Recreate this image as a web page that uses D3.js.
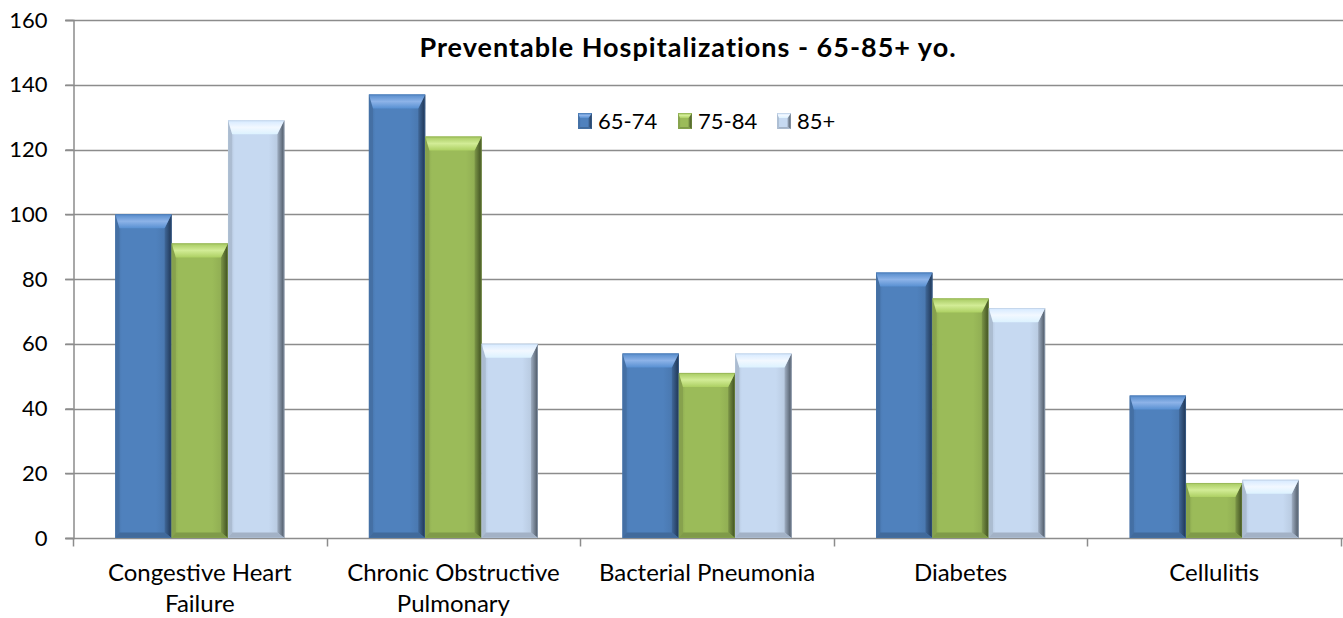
<!DOCTYPE html>
<html>
<head>
<meta charset="utf-8">
<script src="https://cdn.jsdelivr.net/npm/d3@7"></script>
<style>
  html, body { margin: 0; padding: 0; background: #fff; }
  svg { display: block; }
  text { font-family: Lato, "Open Sans", sans-serif; fill: #000; }
</style>
</head>
<body>
<svg id="chart" width="1343" height="618"></svg>
<script>
// Preventable hospitalizations by condition and age group
const categories = ["Congestive Heart Failure", "Chronic Obstructive Pulmonary", "Bacterial Pneumonia", "Diabetes", "Cellulitis"];
const categoryLines = [["Congestive Heart", "Failure"], ["Chronic Obstructive", "Pulmonary"], ["Bacterial Pneumonia"], ["Diabetes"], ["Cellulitis"]];
const seriesNames = ["65-74", "75-84", "85+"];
const values6574 = [100, 137, 57, 82, 44];
const values7584 = [91, 124, 51, 74, 17];
const values85 = [129, 60, 57, 71, 18];
const yTicks = [0, 20, 40, 60, 80, 100, 120, 140, 160];
const seriesColors = ["#4F81BD", "#9BBB59", "#C6D9F1"];
const seriesDark = ["#1F3553", "#3E4E20", "#4A5562"];
const seriesLight = ["#8DB3E8", "#D2EC96", "#F2F8FF"];

const seriesValues = [values6574, values7584, values85];

const svg = d3.select("#chart");
const margin = { left: 73, right: 2, top: 20, bottom: 80 };
const W = 1343, H = 618;
const plotW = W - margin.left - margin.right;
const plotH = H - margin.top - margin.bottom;

const y = d3.scaleLinear().domain([0, 160]).range([margin.top + plotH, margin.top]);
const x0 = d3.scaleBand().domain(categories).range([margin.left, margin.left + plotW]).paddingInner(0).paddingOuter(0);
// gap width of 150% of one bar: group occupies 3 / (3 + 1.5) of the band
const groupFrac = 3 / 4.5;
const x1 = d3.scaleBand().domain(seriesNames)
  .range([x0.bandwidth() * (1 - groupFrac) / 2, x0.bandwidth() * (1 + groupFrac) / 2])
  .padding(0);

const defs = svg.append("defs");
seriesNames.forEach((s, i) => {
  const g = defs.append("linearGradient").attr("id", "body" + i).attr("x1", 0).attr("x2", 1).attr("y1", 0).attr("y2", 0);
  g.append("stop").attr("offset", 0).attr("stop-color", d3.color(seriesColors[i]).darker(0.35));
  g.append("stop").attr("offset", 0.12).attr("stop-color", seriesColors[i]);
  g.append("stop").attr("offset", 0.72).attr("stop-color", seriesColors[i]);
  g.append("stop").attr("offset", 1).attr("stop-color", d3.color(seriesColors[i]).darker(0.35));
  const t = defs.append("linearGradient").attr("id", "top" + i).attr("x1", 0).attr("x2", 0).attr("y1", 0).attr("y2", 1);
  t.append("stop").attr("offset", 0).attr("stop-color", d3.color(seriesColors[i]).brighter(0.2));
  t.append("stop").attr("offset", 0.5).attr("stop-color", seriesLight[i]);
  t.append("stop").attr("offset", 1).attr("stop-color", d3.color(seriesColors[i]).brighter(0.3));
  const r = defs.append("linearGradient").attr("id", "right" + i).attr("x1", 0).attr("x2", 1).attr("y1", 0).attr("y2", 0);
  r.append("stop").attr("offset", 0).attr("stop-color", d3.color(seriesColors[i]).darker(0.6));
  r.append("stop").attr("offset", 1).attr("stop-color", seriesDark[i]);
});

// gridlines
svg.append("g").selectAll("line").data(yTicks.filter(d => d > 0)).join("line")
  .attr("x1", margin.left - 8).attr("x2", W)
  .attr("y1", d => Math.round(y(d)) + 0.5).attr("y2", d => Math.round(y(d)) + 0.5)
  .attr("stroke", "#8C8C8C").attr("stroke-width", 1.5);

// y axis
const yAxis = svg.append("g").attr("transform", `translate(${margin.left + 0.5},0)`)
  .call(d3.axisLeft(y).tickValues(yTicks).tickSize(8).tickPadding(18));
yAxis.select(".domain").attr("stroke", "#8C8C8C").attr("stroke-width", 1.5);
yAxis.selectAll(".tick line").attr("stroke", "#8C8C8C").attr("stroke-width", 1.5);
yAxis.selectAll(".tick text").style("font-size", "22px").attr("fill", "#000");

// x axis baseline and category ticks
const baseY = Math.round(y(0)) + 0.5;
svg.append("line").attr("x1", margin.left - 8).attr("x2", W).attr("y1", baseY).attr("y2", baseY)
  .attr("stroke", "#8C8C8C").attr("stroke-width", 1.5);
const bounds = categories.map(c => x0(c)).concat([x0(categories[categories.length - 1]) + x0.bandwidth()]);
svg.append("g").selectAll("line").data(bounds).join("line")
  .attr("x1", d => Math.min(Math.round(d) + 0.5, W - 1.5)).attr("x2", d => Math.min(Math.round(d) + 0.5, W - 1.5))
  .attr("y1", baseY).attr("y2", baseY + 8)
  .attr("stroke", "#8C8C8C").attr("stroke-width", 1.5);

// category labels
const labels = svg.append("g");
categories.forEach((c, i) => {
  const t = labels.append("text").attr("x", x0(c) + x0.bandwidth() / 2).attr("y", 581)
    .attr("text-anchor", "middle").style("font-size", "24px");
  categoryLines[i].forEach((ln, j) => {
    t.append("tspan").attr("x", x0(c) + x0.bandwidth() / 2).attr("dy", j === 0 ? 0 : 31).text(ln);
  });
});

// beveled bars
function drawBar(g, bx, by, bw, bh, i, bevel) {
  const b = Math.min(bevel, bh / 2);
  const side = Math.min(7, bw / 4);
  g.append("rect").attr("x", bx).attr("y", by).attr("width", bw).attr("height", bh).attr("fill", `url(#body${i})`);
  // right bevel
  g.append("polygon").attr("points", [[bx + bw - side, by + b], [bx + bw, by], [bx + bw, by + bh], [bx + bw - side, by + bh - b * 0.4]].join(" "))
    .attr("fill", `url(#right${i})`);
  // left bevel
  g.append("polygon").attr("points", [[bx, by], [bx + side * 0.6, by + b], [bx + side * 0.6, by + bh - b * 0.4], [bx, by + bh]].join(" "))
    .attr("fill", d3.color(seriesColors[i]).darker(0.45)).attr("opacity", 0.8);
  // bottom bevel
  g.append("polygon").attr("points", [[bx, by + bh], [bx + side * 0.6, by + bh - b * 0.4], [bx + bw - side, by + bh - b * 0.4], [bx + bw, by + bh]].join(" "))
    .attr("fill", d3.color(seriesColors[i]).darker(0.55));
  // top bevel
  g.append("polygon").attr("points", [[bx, by], [bx + bw, by], [bx + bw - side, by + b], [bx + side * 0.6, by + b]].join(" "))
    .attr("fill", `url(#top${i})`);
  // thin edge
  g.append("rect").attr("x", bx + 0.5).attr("y", by + 0.5).attr("width", bw - 1).attr("height", bh - 1)
    .attr("fill", "none").attr("stroke", d3.color(seriesColors[i]).darker(0.3)).attr("stroke-width", 0.8).attr("opacity", 0.6);
}

const barLayer = svg.append("g");
categories.forEach((c, ci) => {
  seriesNames.forEach((s, si) => {
    const v = seriesValues[si][ci];
    const bx = x0(c) + x1(s);
    const by = y(v);
    drawBar(barLayer, bx, by, x1.bandwidth(), y(0) - by, si, 14);
  });
});

// title
svg.append("text").attr("x", 688).attr("y", 57).attr("text-anchor", "middle")
  .style("font-size", "27px").style("font-weight", "bold").style("letter-spacing", "1px")
  .text("Preventable Hospitalizations - 65-85+ yo.");

// legend
const legend = svg.append("g").attr("transform", "translate(578,113)");
const legendX = [0, 100, 199];
seriesNames.forEach((s, i) => {
  const lg = legend.append("g").attr("transform", `translate(${legendX[i]},0)`);
  drawBar(lg, 0, 0, 14, 16, i, 5);
  lg.append("text").attr("x", 20).attr("y", 16).style("font-size", "22px").text(s);
});
</script>
</body>
</html>
